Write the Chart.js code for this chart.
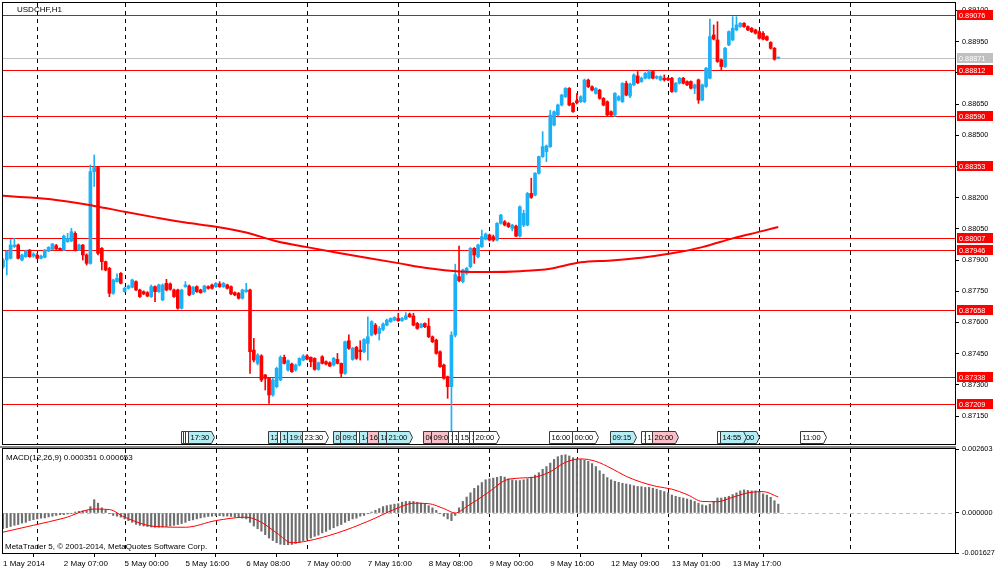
<!DOCTYPE html>
<html>
<head>
<meta charset="utf-8">
<script src="https://cdn.jsdelivr.net/npm/chart.js@4.4.0/dist/chart.umd.min.js"></script>
<style>
    html, body { margin: 0; padding: 0; background: #fff; }
    #wrap { position: relative; width: 1000px; height: 574px; overflow: hidden; }
    canvas { position: absolute; left: 0; }
    #priceChart { top: 0; }
    #macdChart { top: 437px; }
</style>
</head>
<body>
<div id="wrap">
    <canvas id="priceChart" width="1000" height="447"></canvas>
    <canvas id="macdChart" width="1000" height="137"></canvas>
</div>
<script>
// USDCHF H1, first bar = 1 May 2014 15:00 (bar index 0)
const opens = [
    0.87868, 0.87900, 0.87908, 0.87964, 0.87972, 0.87900, 0.87916, 0.87948, 0.87919, 0.87924,
    0.87908, 0.87913, 0.87943, 0.87951, 0.87969, 0.87956, 0.87948, 0.87988, 0.87992, 0.88028,
    0.87948, 0.87972, 0.87924, 0.87884, 0.88325, 0.88345, 0.87956, 0.87892, 0.87860, 0.87740,
    0.87796, 0.87836, 0.87748, 0.87764, 0.87769, 0.87796, 0.87756, 0.87748, 0.87743, 0.87724,
    0.87772, 0.87748, 0.87708, 0.87788, 0.87785, 0.87756, 0.87756, 0.87668, 0.87772, 0.87775,
    0.87737, 0.87772, 0.87756, 0.87748, 0.87772, 0.87780, 0.87772, 0.87785, 0.87772, 0.87780,
    0.87772, 0.87743, 0.87740, 0.87716, 0.87748, 0.87756, 0.87467, 0.87403, 0.87439, 0.87347,
    0.87331, 0.87251, 0.87291, 0.87323, 0.87432, 0.87371, 0.87400, 0.87371, 0.87395, 0.87419,
    0.87439, 0.87432, 0.87427, 0.87374, 0.87435, 0.87411, 0.87406, 0.87395, 0.87422, 0.87403,
    0.87355, 0.87512, 0.87422, 0.87480, 0.87467, 0.87459, 0.87499, 0.87539, 0.87587, 0.87547,
    0.87566, 0.87587, 0.87603, 0.87611, 0.87619, 0.87608, 0.87616, 0.87640, 0.87631, 0.87595,
    0.87576, 0.87595, 0.87582, 0.87531, 0.87515, 0.87459, 0.87395, 0.87339, 0.87291, 0.87539,
    0.87820, 0.87796, 0.87836, 0.87868, 0.87956, 0.87916, 0.87964, 0.88000, 0.88020, 0.88012,
    0.87996, 0.88076, 0.88084, 0.88076, 0.88052, 0.88063, 0.88015, 0.88068, 0.88068, 0.88220,
    0.88212, 0.88317, 0.88397, 0.88421, 0.88445, 0.88549, 0.88597, 0.88645, 0.88685, 0.88725,
    0.88653, 0.88666, 0.88661, 0.88661, 0.88765, 0.88733, 0.88701, 0.88717, 0.88677, 0.88661,
    0.88613, 0.88597, 0.88669, 0.88661, 0.88749, 0.88688, 0.88742, 0.88785, 0.88758, 0.88774,
    0.88774, 0.88806, 0.88774, 0.88766, 0.88774, 0.88774, 0.88774, 0.88710, 0.88750, 0.88774,
    0.88758, 0.88758, 0.88726, 0.88766, 0.88669, 0.88734, 0.88774, 0.88982, 0.88958, 0.88862,
    0.88830, 0.88934, 0.88958, 0.89006, 0.89022, 0.89038, 0.89022, 0.89014, 0.89006, 0.88998,
    0.88990, 0.88974, 0.88946, 0.88918, 0.88871
];
const highs = [
    0.87908, 0.87945, 0.87999, 0.88004, 0.87977, 0.87929, 0.87948, 0.87951, 0.87935, 0.87932,
    0.87924, 0.87951, 0.87964, 0.87980, 0.87975, 0.87958, 0.88020, 0.88028, 0.88052, 0.88036,
    0.87977, 0.87975, 0.87930, 0.88357, 0.88405, 0.88350, 0.87960, 0.87895, 0.87865, 0.87808,
    0.87833, 0.87840, 0.87770, 0.87780, 0.87808, 0.87800, 0.87760, 0.87752, 0.87748, 0.87780,
    0.87776, 0.87784, 0.87785, 0.87807, 0.87790, 0.87760, 0.87760, 0.87760, 0.87796, 0.87780,
    0.87773, 0.87776, 0.87760, 0.87779, 0.87776, 0.87784, 0.87792, 0.87796, 0.87792, 0.87784,
    0.87776, 0.87747, 0.87744, 0.87760, 0.87788, 0.87760, 0.87523, 0.87450, 0.87445, 0.87350,
    0.87335, 0.87330, 0.87385, 0.87440, 0.87443, 0.87420, 0.87405, 0.87400, 0.87430, 0.87445,
    0.87445, 0.87435, 0.87430, 0.87410, 0.87440, 0.87415, 0.87410, 0.87432, 0.87451, 0.87405,
    0.87510, 0.87540, 0.87480, 0.87485, 0.87512, 0.87522, 0.87627, 0.87608, 0.87595, 0.87580,
    0.87598, 0.87616, 0.87622, 0.87627, 0.87644, 0.87624, 0.87647, 0.87645, 0.87644, 0.87600,
    0.87595, 0.87598, 0.87619, 0.87535, 0.87520, 0.87463, 0.87400, 0.87342, 0.87555, 0.87880,
    0.87967, 0.87856, 0.87865, 0.87960, 0.87960, 0.87977, 0.88044, 0.88030, 0.88025, 0.88020,
    0.88080, 0.88120, 0.88090, 0.88080, 0.88072, 0.88068, 0.88160, 0.88140, 0.88225, 0.88293,
    0.88320, 0.88400, 0.88517, 0.88453, 0.88620, 0.88617, 0.88650, 0.88697, 0.88729, 0.88729,
    0.88657, 0.88700, 0.88690, 0.88770, 0.88770, 0.88737, 0.88729, 0.88721, 0.88681, 0.88665,
    0.88617, 0.88705, 0.88690, 0.88753, 0.88760, 0.88750, 0.88795, 0.88806, 0.88780, 0.88802,
    0.88814, 0.88810, 0.88786, 0.88786, 0.88790, 0.88778, 0.88778, 0.88754, 0.88778, 0.88778,
    0.88762, 0.88762, 0.88746, 0.88770, 0.88746, 0.88826, 0.89058, 0.89030, 0.89046, 0.88866,
    0.88922, 0.89002, 0.89070, 0.89070, 0.89042, 0.89042, 0.89026, 0.89018, 0.89010, 0.89002,
    0.88998, 0.88978, 0.88950, 0.88922, 0.88875
];
const lows = [
    0.87860, 0.87828, 0.87905, 0.87960, 0.87905, 0.87895, 0.87913, 0.87913, 0.87913, 0.87905,
    0.87905, 0.87910, 0.87940, 0.87948, 0.87950, 0.87945, 0.87945, 0.87985, 0.87988, 0.87943,
    0.87945, 0.87900, 0.87876, 0.87880, 0.88253, 0.87925, 0.87852, 0.87848, 0.87724, 0.87735,
    0.87793, 0.87785, 0.87745, 0.87760, 0.87766, 0.87752, 0.87720, 0.87733, 0.87723, 0.87720,
    0.87700, 0.87744, 0.87704, 0.87752, 0.87755, 0.87720, 0.87664, 0.87664, 0.87768, 0.87728,
    0.87733, 0.87744, 0.87740, 0.87744, 0.87760, 0.87760, 0.87768, 0.87768, 0.87768, 0.87760,
    0.87733, 0.87728, 0.87712, 0.87712, 0.87744, 0.87355, 0.87410, 0.87395, 0.87315, 0.87275,
    0.87211, 0.87245, 0.87285, 0.87320, 0.87400, 0.87365, 0.87360, 0.87365, 0.87390, 0.87415,
    0.87420, 0.87387, 0.87370, 0.87370, 0.87400, 0.87395, 0.87387, 0.87390, 0.87400, 0.87339,
    0.87350, 0.87470, 0.87418, 0.87422, 0.87419, 0.87455, 0.87419, 0.87535, 0.87540, 0.87515,
    0.87560, 0.87583, 0.87600, 0.87608, 0.87605, 0.87605, 0.87613, 0.87624, 0.87583, 0.87567,
    0.87573, 0.87575, 0.87527, 0.87503, 0.87447, 0.87383, 0.87327, 0.87235, 0.87020, 0.87530,
    0.87795, 0.87790, 0.87830, 0.87862, 0.87884, 0.87910, 0.87960, 0.87996, 0.87992, 0.87990,
    0.87992, 0.88072, 0.88064, 0.88056, 0.88040, 0.88012, 0.88010, 0.88060, 0.88064, 0.88196,
    0.88208, 0.88313, 0.88393, 0.88373, 0.88441, 0.88545, 0.88593, 0.88641, 0.88681, 0.88641,
    0.88609, 0.88650, 0.88657, 0.88657, 0.88729, 0.88713, 0.88697, 0.88673, 0.88641, 0.88593,
    0.88590, 0.88590, 0.88665, 0.88657, 0.88689, 0.88680, 0.88738, 0.88748, 0.88754, 0.88770,
    0.88770, 0.88770, 0.88770, 0.88762, 0.88760, 0.88762, 0.88706, 0.88706, 0.88746, 0.88746,
    0.88738, 0.88722, 0.88700, 0.88653, 0.88665, 0.88730, 0.88770, 0.88958, 0.88850, 0.88814,
    0.88826, 0.88930, 0.88954, 0.89002, 0.89018, 0.89018, 0.89002, 0.88994, 0.88986, 0.88962,
    0.88958, 0.88954, 0.88914, 0.88861, 0.88867
];
const closes = [
    0.87900, 0.87941, 0.87972, 0.87972, 0.87908, 0.87924, 0.87943, 0.87916, 0.87929, 0.87908,
    0.87919, 0.87948, 0.87961, 0.87977, 0.87953, 0.87948, 0.88015, 0.88004, 0.88036, 0.87948,
    0.87972, 0.87924, 0.87884, 0.88325, 0.88345, 0.87932, 0.87892, 0.87852, 0.87740, 0.87804,
    0.87812, 0.87788, 0.87764, 0.87775, 0.87804, 0.87756, 0.87724, 0.87737, 0.87727, 0.87772,
    0.87748, 0.87780, 0.87780, 0.87756, 0.87759, 0.87724, 0.87668, 0.87756, 0.87780, 0.87732,
    0.87769, 0.87748, 0.87743, 0.87775, 0.87764, 0.87764, 0.87788, 0.87772, 0.87788, 0.87764,
    0.87737, 0.87732, 0.87716, 0.87756, 0.87756, 0.87459, 0.87419, 0.87443, 0.87323, 0.87331,
    0.87251, 0.87323, 0.87379, 0.87432, 0.87403, 0.87416, 0.87363, 0.87395, 0.87427, 0.87439,
    0.87423, 0.87411, 0.87374, 0.87406, 0.87403, 0.87400, 0.87390, 0.87427, 0.87403, 0.87355,
    0.87507, 0.87475, 0.87475, 0.87427, 0.87459, 0.87518, 0.87531, 0.87603, 0.87547, 0.87571,
    0.87592, 0.87611, 0.87619, 0.87624, 0.87608, 0.87619, 0.87631, 0.87627, 0.87587, 0.87571,
    0.87592, 0.87579, 0.87531, 0.87507, 0.87451, 0.87387, 0.87331, 0.87291, 0.87539, 0.87830,
    0.87801, 0.87852, 0.87860, 0.87956, 0.87924, 0.87972, 0.88012, 0.88025, 0.87996, 0.87996,
    0.88076, 0.88116, 0.88068, 0.88060, 0.88068, 0.88015, 0.88156, 0.88124, 0.88220, 0.88201,
    0.88317, 0.88397, 0.88445, 0.88448, 0.88597, 0.88613, 0.88645, 0.88693, 0.88725, 0.88645,
    0.88613, 0.88656, 0.88685, 0.88765, 0.88733, 0.88717, 0.88725, 0.88677, 0.88645, 0.88597,
    0.88597, 0.88701, 0.88685, 0.88749, 0.88693, 0.88746, 0.88790, 0.88752, 0.88774, 0.88798,
    0.88806, 0.88774, 0.88782, 0.88782, 0.88766, 0.88766, 0.88710, 0.88750, 0.88774, 0.88750,
    0.88742, 0.88726, 0.88742, 0.88669, 0.88742, 0.88822, 0.88974, 0.88962, 0.88854, 0.88830,
    0.88918, 0.88998, 0.89014, 0.89030, 0.89038, 0.89022, 0.89006, 0.88998, 0.88990, 0.88966,
    0.88962, 0.88958, 0.88918, 0.88865, 0.88871
];

// moving average, read at every 8th bar
const maBars = [0, 8, 16, 24, 32, 40, 48, 56, 64, 72, 80, 88, 96, 104, 112, 120, 128, 136, 144, 152, 160, 168, 176, 184, 192, 200, 204];
const maValues = [0.88209, 0.88199, 0.88184, 0.88160, 0.88132, 0.88105, 0.88080, 0.88060, 0.88032, 0.87990, 0.87962, 0.87935, 0.87910, 0.87885, 0.87860, 0.87845, 0.87842, 0.87846, 0.87858, 0.87889, 0.87898, 0.87911, 0.87932, 0.87962, 0.88004, 0.88040, 0.88059];

// MACD(12,26,9) main (histogram) per bar
const macdValues = [
    -0.00064, -0.00060, -0.00055, -0.00050, -0.00047, -0.00041, -0.00038, -0.00031, -0.00027, -0.00024,
    -0.00021, -0.00020, -0.00016, -0.00013, -0.00010, -0.00007, -0.00007, -0.00004, -0.00001, 0.00004,
    0.00007, 0.00009, 0.00010, 0.00026, 0.00054, 0.00040, 0.00021, 0.00011, -0.00003, -0.00010,
    -0.00013, -0.00017, -0.00024, -0.00031, -0.00038, -0.00046, -0.00050, -0.00053, -0.00055, -0.00057,
    -0.00058, -0.00058, -0.00057, -0.00055, -0.00053, -0.00050, -0.00047, -0.00043, -0.00038, -0.00031,
    -0.00028, -0.00024, -0.00020, -0.00017, -0.00014, -0.00013, -0.00011, -0.00011, -0.00013, -0.00013,
    -0.00014, -0.00016, -0.00018, -0.00021, -0.00024, -0.00038, -0.00053, -0.00064, -0.00074, -0.00088,
    -0.00102, -0.00112, -0.00121, -0.00127, -0.00129, -0.00129, -0.00128, -0.00124, -0.00121, -0.00112,
    -0.00107, -0.00102, -0.00095, -0.00090, -0.00081, -0.00075, -0.00067, -0.00060, -0.00053, -0.00047,
    -0.00038, -0.00031, -0.00024, -0.00021, -0.00013, -0.00010, -0.00003, 0.00004, 0.00011, 0.00018,
    0.00026, 0.00030, 0.00033, 0.00036, 0.00038, 0.00044, 0.00047, 0.00047, 0.00047, 0.00044,
    0.00040, 0.00037, 0.00030, 0.00021, 0.00011, -0.00003, -0.00013, -0.00024, -0.00031, -0.00010,
    0.00021, 0.00047, 0.00065, 0.00082, 0.00100, 0.00111, 0.00124, 0.00135, 0.00139, 0.00142,
    0.00145, 0.00149, 0.00146, 0.00139, 0.00135, 0.00132, 0.00132, 0.00135, 0.00139, 0.00146,
    0.00154, 0.00164, 0.00178, 0.00189, 0.00203, 0.00218, 0.00229, 0.00235, 0.00237, 0.00232,
    0.00225, 0.00220, 0.00218, 0.00215, 0.00210, 0.00201, 0.00189, 0.00172, 0.00158, 0.00144,
    0.00135, 0.00129, 0.00125, 0.00121, 0.00118, 0.00115, 0.00111, 0.00108, 0.00107, 0.00104,
    0.00104, 0.00101, 0.00097, 0.00092, 0.00087, 0.00082, 0.00073, 0.00068, 0.00064, 0.00061,
    0.00057, 0.00053, 0.00047, 0.00040, 0.00033, 0.00030, 0.00036, 0.00047, 0.00061, 0.00061,
    0.00064, 0.00068, 0.00075, 0.00082, 0.00090, 0.00094, 0.00092, 0.00090, 0.00090, 0.00087,
    0.00078, 0.00073, 0.00064, 0.00050, 0.00036
];
// MACD signal line
const signalBars = [0, 8, 16, 24, 28, 32, 40, 48, 56, 64, 68, 72, 76, 80, 88, 96, 104, 108, 112, 116, 119, 122, 128, 132, 136, 140, 144, 148, 152, 156, 160, 164, 168, 172, 176, 180, 184, 188, 192, 196, 200, 204];
const signalValues = [-0.00078, -0.00050, -0.00021, 0.00016, 0.00014, -0.00017, -0.00055, -0.00058, -0.00031, -0.00017, -0.00038, -0.00081, -0.00121, -0.00114, -0.00081, -0.00034, 0.00021, 0.00040, 0.00038, 0.00018, 0.0, 0.00026, 0.00087, 0.00132, 0.00142, 0.00146, 0.00168, 0.00206, 0.00220, 0.00210, 0.00182, 0.00149, 0.00125, 0.00108, 0.00097, 0.00075, 0.00047, 0.00046, 0.00064, 0.00082, 0.00087, 0.00065];

// horizontal levels and current bid
const levels = [0.89076, 0.88812, 0.88590, 0.88353, 0.88007, 0.87946, 0.87658, 0.87338, 0.87209];
const bidPrice = 0.88871;

// axes
const priceTicks = [0.89100, 0.88950, 0.88800, 0.88650, 0.88500, 0.88350, 0.88200, 0.88050, 0.87900, 0.87750, 0.87600, 0.87450, 0.87300, 0.87150];
const macdTicks = [0.002603, 0, -0.001627];
const timeTickBars = [0, 16, 32, 48, 64, 80, 96, 112, 128, 144, 160, 176, 192];
const timeTickLabels = ['1 May 2014', '2 May 07:00', '5 May 00:00', '5 May 16:00', '6 May 08:00', '7 May 00:00', '7 May 16:00', '8 May 08:00', '9 May 00:00', '9 May 16:00', '12 May 09:00', '13 May 01:00', '13 May 17:00'];
const daySeparators = [9, 32, 56, 80, 104, 128, 151, 175, 199, 223];

// calendar event tags (bar position, time, kind), in drawing order
const eventBars = [46.8, 47.4, 47.9, 48.6, 69.8, 72.0, 72.9, 74.8, 78.6, 86.8, 88.7, 93.0, 93.7, 95.7, 98.8, 100.8, 110.6, 112.5, 117.2, 118.1, 119.8, 122.5, 123.6, 143.8, 149.6, 159.7, 167.9, 168.8, 170.7, 187.8, 192.0, 188.7, 209.7];
const eventTexts = ['12:30', '13:00', '14:00', '17:30', '12:30', '13:00', '14:00', '19:00', '23:30', '01:00', '09:00', '14:00', '14:30', '16:00', '18:00', '21:00', '06:00', '09:00', '14:00', '14:30', '15:00', '18:00', '20:00', '16:00', '00:00', '09:15', '17:00', '18:00', '20:00', '14:00', '15:00', '14:55', '11:00'];
const eventKinds = ['n', 'n', 'n', 'up', 'up', 'n', 'up', 'up', 'n', 'up', 'up', 'n', 'up', 'dn', 'up', 'up', 'dn', 'dn', 'n', 'n', 'n', 'n', 'n', 'n', 'n', 'up', 'n', 'n', 'dn', 'n', 'up', 'up', 'n'];

const FONT = "'Liberation Sans', Arial, sans-serif";
const BULL = '#1cb0f6';
const BEAR = '#ff0000';
const X_MAX = 250.5;
const PRICE_MIN = 0.870154;
const PRICE_MAX = 0.891356;

Chart.defaults.font.family = FONT;
Chart.defaults.color = '#000';

function candleColor(i) {
    return closes[i] >= opens[i] ? BULL : BEAR;
}

function drawSeparators(ctx, a, xScale) {
    ctx.save();
    ctx.strokeStyle = '#000';
    ctx.lineWidth = 1;
    ctx.setLineDash([4, 4]);
    daySeparators.forEach(function (k) {
        const px = Math.round(xScale.getPixelForValue(k)) + 0.5;
        ctx.beginPath();
        ctx.moveTo(px, a.top);
        ctx.lineTo(px, a.bottom);
        ctx.stroke();
    });
    ctx.restore();
}

function drawFrame(ctx, a) {
    ctx.save();
    ctx.strokeStyle = '#000';
    ctx.lineWidth = 1;
    ctx.strokeRect(a.left - 0.5, a.top - 0.5, a.right - a.left + 1, a.bottom - a.top + 1);
    ctx.restore();
}

const pricePanel = {
    id: 'pricePanel',
    beforeDatasetsDraw(chart) {
        const { ctx, chartArea: a, scales } = chart;
        drawSeparators(ctx, a, scales.x);
        ctx.save();
        ctx.lineWidth = 1;
        ctx.strokeStyle = '#c0c0c0';
        let py = Math.round(scales.y.getPixelForValue(bidPrice)) + 0.5;
        ctx.beginPath(); ctx.moveTo(a.left, py); ctx.lineTo(a.right, py); ctx.stroke();
        ctx.strokeStyle = BEAR;
        levels.forEach(function (v) {
            py = Math.round(scales.y.getPixelForValue(v)) + 0.5;
            ctx.beginPath(); ctx.moveTo(a.left, py); ctx.lineTo(a.right, py); ctx.stroke();
        });
        ctx.restore();
    },
    afterDatasetsDraw(chart) {
        const { ctx, chartArea: a, scales } = chart;
        const fills = { up: '#b4eef4', dn: '#f7c0c8', n: '#ffffff' };
        ctx.save();
        ctx.font = '7.5px ' + FONT;
        ctx.textBaseline = 'middle';
        ctx.lineWidth = 1;
        const top = a.bottom - 12.5;
        const h = 12;
        eventBars.forEach(function (k, i) {
            const x = Math.round(scales.x.getPixelForValue(k)) + 0.5;
            const w = Math.ceil(ctx.measureText(eventTexts[i]).width) + 4;
            ctx.beginPath();
            ctx.moveTo(x, top);
            ctx.lineTo(x + w, top);
            ctx.lineTo(x + w + 3, top + h / 2);
            ctx.lineTo(x + w, top + h);
            ctx.lineTo(x, top + h);
            ctx.closePath();
            ctx.fillStyle = fills[eventKinds[i]];
            ctx.fill();
            ctx.strokeStyle = '#3a3a3a';
            ctx.stroke();
            ctx.fillStyle = '#000';
            ctx.fillText(eventTexts[i], x + 2, top + h / 2 + 0.5);
        });
        ctx.restore();
    },
    afterDraw(chart) {
        const { ctx, chartArea: a, scales } = chart;
        drawFrame(ctx, a);
        ctx.save();
        ctx.font = '7.3px ' + FONT;
        ctx.textBaseline = 'middle';
        const tags = levels.map(function (v) { return [v, BEAR]; });
        tags.push([bidPrice, '#c0c0c0']);
        tags.forEach(function (t) {
            const py = Math.round(scales.y.getPixelForValue(t[0]));
            ctx.fillStyle = t[1];
            ctx.fillRect(a.right + 2, py - 5, 36, 10);
            ctx.fillStyle = '#fff';
            ctx.fillText(t[0].toFixed(5), a.right + 4, py + 0.5);
        });
        ctx.fillStyle = '#000';
        ctx.font = '8px ' + FONT;
        ctx.fillText('USDCHF,H1', 17, 10);
        ctx.restore();
    }
};

const macdPanel = {
    id: 'macdPanel',
    beforeDatasetsDraw(chart) {
        const { ctx, chartArea: a, scales } = chart;
        drawSeparators(ctx, a, scales.x);
        ctx.save();
        ctx.strokeStyle = '#c0c0c0';
        ctx.lineWidth = 1;
        ctx.setLineDash([4, 3]);
        const py = Math.round(scales.y.getPixelForValue(0)) + 0.5;
        ctx.beginPath(); ctx.moveTo(a.left, py); ctx.lineTo(a.right, py); ctx.stroke();
        ctx.restore();
    },
    afterDraw(chart) {
        const { ctx, chartArea: a } = chart;
        drawFrame(ctx, a);
        ctx.save();
        ctx.fillStyle = '#8c8c8c';
        ctx.fillRect(0, a.top - 3, a.right + 1, 2);
        ctx.fillStyle = '#000';
        ctx.font = '8px ' + FONT;
        ctx.textBaseline = 'middle';
        ctx.fillText('MACD(12,26,9) 0.000351 0.000653', 6, a.top + 8.5);
        ctx.fillText('MetaTrader 5, \u00a9 2001-2014, MetaQuotes Software Corp.', 5, a.bottom - 6);
        ctx.restore();
    }
};

new Chart(document.getElementById('priceChart'), {
    type: 'bar',
    data: {
        datasets: [
            {
                type: 'line',
                label: 'MA',
                data: maBars.map(function (k, i) { return { x: k, y: maValues[i] }; }),
                borderColor: BEAR,
                borderWidth: 2,
                pointRadius: 0,
                cubicInterpolationMode: 'monotone',
                order: 0
            },
            {
                label: 'body',
                data: opens.map(function (o, i) { return { x: i, y: [o, closes[i]] }; }),
                backgroundColor: function (c) { return candleColor(c.dataIndex); },
                barThickness: 3,
                minBarLength: 1,
                grouped: false,
                order: 1
            },
            {
                label: 'wick',
                data: lows.map(function (l, i) { return { x: i, y: [l, highs[i]] }; }),
                backgroundColor: function (c) { return candleColor(c.dataIndex); },
                barThickness: 1,
                grouped: false,
                order: 2
            }
        ]
    },
    options: {
        responsive: false,
        animation: false,
        devicePixelRatio: 1,
        layout: { padding: { left: 3, top: 3, right: 0, bottom: 3 } },
        plugins: { legend: { display: false }, tooltip: { enabled: false } },
        scales: {
            x: { type: 'linear', min: 0, max: X_MAX, offset: false, display: false },
            y: {
                position: 'right',
                min: PRICE_MIN,
                max: PRICE_MAX,
                afterFit: function (s) { s.width = 45; s.paddingTop = 0; s.paddingBottom = 0; },
                afterBuildTicks: function (s) { s.ticks = priceTicks.map(function (v) { return { value: v }; }); },
                ticks: {
                    autoSkip: false,
                    padding: 3,
                    color: '#000',
                    font: { size: 7.3 },
                    callback: function (v) { return v.toFixed(5); }
                },
                grid: { drawOnChartArea: false, drawTicks: true, tickLength: 4, color: '#000' },
                border: { color: '#000' }
            }
        }
    },
    plugins: [pricePanel]
});

new Chart(document.getElementById('macdChart'), {
    type: 'bar',
    data: {
        datasets: [
            {
                type: 'line',
                label: 'Signal',
                data: signalBars.map(function (k, i) { return { x: k, y: signalValues[i] }; }),
                borderColor: BEAR,
                borderWidth: 1,
                pointRadius: 0,
                cubicInterpolationMode: 'monotone',
                order: 0
            },
            {
                label: 'MACD',
                data: macdValues.map(function (v, i) { return { x: i, y: v }; }),
                backgroundColor: '#6e6e6e',
                barThickness: 1.5,
                grouped: false,
                order: 1
            }
        ]
    },
    options: {
        responsive: false,
        animation: false,
        devicePixelRatio: 1,
        layout: { padding: { left: 3, top: 12, right: 0, bottom: 0 } },
        plugins: { legend: { display: false }, tooltip: { enabled: false } },
        scales: {
            x: {
                type: 'linear',
                min: 0,
                max: X_MAX,
                offset: false,
                afterFit: function (s) { s.height = 21; s.paddingLeft = 0; s.paddingRight = 0; },
                afterBuildTicks: function (s) { s.ticks = timeTickBars.map(function (v) { return { value: v }; }); },
                ticks: {
                    autoSkip: false,
                    maxRotation: 0,
                    align: 'start',
                    padding: 2,
                    color: '#000',
                    font: { size: 8 },
                    callback: function (v) {
                        const i = timeTickBars.indexOf(v);
                        return i >= 0 ? timeTickLabels[i] : '';
                    }
                },
                grid: { drawOnChartArea: false, drawTicks: true, tickLength: 4, color: '#000' },
                border: { color: '#000' }
            },
            y: {
                position: 'right',
                min: -0.001627,
                max: 0.002603,
                afterFit: function (s) { s.width = 45; s.paddingTop = 0; s.paddingBottom = 0; },
                afterBuildTicks: function (s) { s.ticks = macdTicks.map(function (v) { return { value: v }; }); },
                ticks: {
                    autoSkip: false,
                    padding: 3,
                    color: '#000',
                    font: { size: 7.3 },
                    callback: function (v) { return v.toFixed(6); }
                },
                grid: { drawOnChartArea: false, drawTicks: true, tickLength: 4, color: '#000' },
                border: { color: '#000' }
            }
        }
    },
    plugins: [macdPanel]
});
</script>
</body>
</html>
